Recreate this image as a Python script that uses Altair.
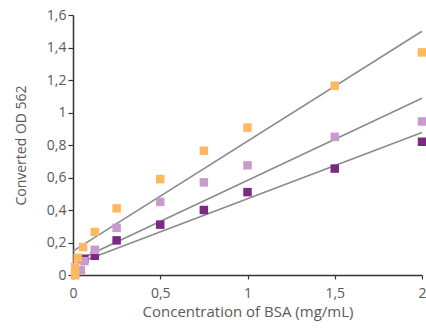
import altair as alt
import pandas as pd

# Series data
orange_x = [0.012, 0.012, 0.027, 0.058, 0.125, 0.25, 0.5, 0.75, 1.0, 1.5, 2.0]
orange_y = [0.0, 0.05, 0.106, 0.172, 0.265, 0.41, 0.59, 0.765, 0.907, 1.165, 1.37]
light_x = [0.012, 0.045, 0.065, 0.125, 0.25, 0.5, 0.75, 1.0, 1.5, 2.0]
light_y = [0.0, 0.03, 0.085, 0.155, 0.29, 0.45, 0.57, 0.675, 0.85, 0.945]
dark_x = [0.065, 0.125, 0.25, 0.5, 0.75, 1.0, 1.5, 2.0]
dark_y = [0.10, 0.118, 0.213, 0.31, 0.40, 0.51, 0.655, 0.82]

# Fitted lines (values at x=0 and x=2)
fit_x = [0.0, 2.0]
fit_orange = [0.147, 1.50]
fit_light = [0.077, 1.088]
fit_dark = [0.062, 0.877]

series = ["dark", "light", "orange"]
colors = ["#7B2A83", "#C99BCB", "#FDB962"]

rows = []
for name, xs, ys in [("dark", dark_x, dark_y), ("light", light_x, light_y), ("orange", orange_x, orange_y)]:
    for xv, yv in zip(xs, ys):
        rows.append({"s": name, "x": xv, "y": yv})
pts = pd.DataFrame(rows)

lrows = []
for name, ys in [("dark", fit_dark), ("light", fit_light), ("orange", fit_orange)]:
    for xv, yv in zip(fit_x, ys):
        lrows.append({"s": name, "x": xv, "y": yv})
lines_df = pd.DataFrame(lrows)

lab = "replace(format(datum.value, '~g'), '.', ',')"
xs = alt.Scale(domain=[0, 2], nice=False, zero=False)
ys = alt.Scale(domain=[0, 1.6], nice=False)

x_enc = alt.X("x:Q", scale=xs, title="Concentration of BSA (mg/mL)",
              axis=alt.Axis(values=[0, 0.5, 1, 1.5, 2], labelExpr=lab, grid=False,
                            labelFlush=False, tickSize=4, labelPadding=7, titlePadding=4,
                            titleFontSize=15))
y_enc = alt.Y("y:Q", scale=ys, title="Converted OD 562",
              axis=alt.Axis(values=[0, 0.2, 0.4, 0.6, 0.8, 1, 1.2, 1.4, 1.6], labelExpr=lab,
                            labelFlush=False, grid=False, tickSize=5, labelPadding=2,
                            titlePadding=18))

lines = alt.Chart(lines_df).mark_line(color="#8a8a8a", strokeWidth=1.5).encode(
    x=x_enc, y=y_enc, detail="s:N")

points = alt.Chart(pts).mark_square(size=72, opacity=1).encode(
    x=x_enc, y=y_enc,
    color=alt.Color("s:N", scale=alt.Scale(domain=series, range=colors), legend=None),
    order=alt.Order("s:N"))

chart = alt.layer(lines, points).properties(
    width=349, height=260,
    autosize=alt.AutoSizeParams(type="none"),
    padding={"left": 73, "top": 15, "right": 4, "bottom": 57},
).configure_view(stroke=None).configure_axis(
    domainColor="#333333", domainWidth=1.5, tickColor="#333333", tickWidth=1.2,
    labelFont="Open Sans", titleFont="Open Sans", labelColor="#5a5a5a", titleColor="#5a5a5a",
    labelFontSize=14, titleFontSize=14, titleFontWeight="normal",
)

chart.save("out.html", embed_options={"renderer": "svg", "actions": False})
